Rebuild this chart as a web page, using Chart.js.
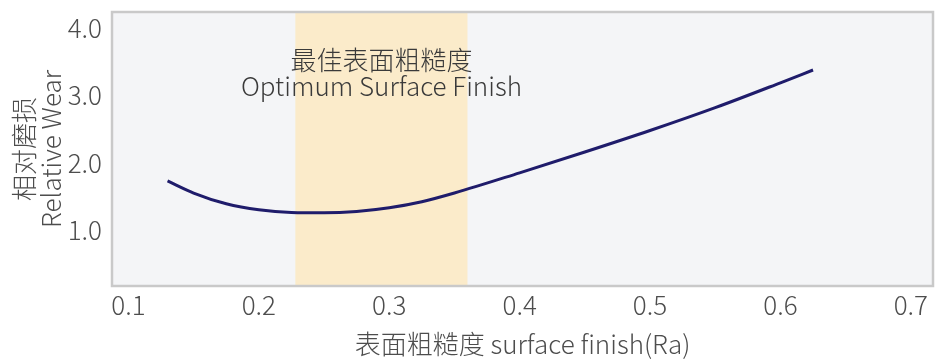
<!DOCTYPE html>
<html>
<head>
<meta charset="utf-8">
<script src="https://cdn.jsdelivr.net/npm/chart.js@4"></script>
<style>
  body { margin: 0; background: #ffffff; }
</style>
</head>
<body>
<canvas id="wearChart" width="945" height="360"></canvas>
<script>

// surface finish (Ra) vs relative wear
let finishRa = [0.13, 0.15, 0.175, 0.20, 0.225, 0.25, 0.275, 0.30, 0.325, 0.35, 0.40, 0.45, 0.50, 0.55, 0.60, 0.625];
let relWear  = [1.73, 1.55, 1.39, 1.30, 1.26, 1.255, 1.275, 1.33, 1.42, 1.55, 1.85, 2.16, 2.48, 2.82, 3.19, 3.38];

// optimum range band
let bandRange = [0.228, 0.360];
let bandText = ["最佳表面粗糙度", "Optimum Surface Finish"];

let xTicks = [0.1, 0.2, 0.3, 0.4, 0.5, 0.6, 0.7];
let yTicks = [1.0, 2.0, 3.0, 4.0];

let fontFamily = "'Noto Sans CJK SC', 'Noto Sans', sans-serif";
let textColor = "#4d4d4d";

const plotFrame = {
    id: "plotFrame",
    beforeDraw(chart) {
        const ctx = chart.ctx;
        const a = chart.chartArea;
        const xs = chart.scales.x;
        ctx.save();
        ctx.fillStyle = "#f4f5f7";
        ctx.fillRect(a.left, a.top, a.right - a.left, a.bottom - a.top);

        let b0 = xs.getPixelForValue(bandRange[0]);
        let b1 = xs.getPixelForValue(bandRange[1]);
        ctx.fillStyle = "#fbebca";
        ctx.fillRect(b0, a.top, b1 - b0, a.bottom - a.top);

        ctx.strokeStyle = "#c9c9c9";
        ctx.lineWidth = 2.5;
        ctx.strokeRect(a.left, a.top, a.right - a.left, a.bottom - a.top);

        // band caption
        ctx.fillStyle = "#3a3a3a";
        ctx.textAlign = "center";
        ctx.textBaseline = "middle";
        ctx.font = "300 26px " + fontFamily;
        let cx = (b0 + b1) / 2;
        ctx.fillText(bandText[0], cx, a.top + 48);
        ctx.fillText(bandText[1], cx, a.top + 74);
        ctx.restore();
    }
};

var ctx = document.getElementById("wearChart").getContext("2d");

var wearChart = new Chart(ctx, {
    type: "line",
    data: {
        datasets: [{
            data: finishRa.map((x, i) => ({ x: x, y: relWear[i] })),
            borderColor: "#1f1c6b",
            borderWidth: 3,
            pointRadius: 0,
            cubicInterpolationMode: "monotone",
            fill: false
        }]
    },
    options: {
        responsive: false,
        animation: false,
        layout: { padding: { top: 12, right: 12, left: 0, bottom: 0 } },
        plugins: {
            legend: { display: false },
            tooltip: { enabled: false }
        },
        scales: {
            x: {
                type: "linear",
                min: 0.0874,
                max: 0.717,
                grid: { display: false, drawTicks: false },
                border: { display: false },
                afterBuildTicks: (axis) => { axis.ticks = xTicks.map(v => ({ value: v })); },
                afterFit: (axis) => { axis.height = 74; axis.paddingLeft = 0; axis.paddingRight = 0; },
                ticks: {
                    padding: 4,
                    color: textColor,
                    font: { family: fontFamily, size: 26, weight: 300 },
                    callback: (v) => Number(v).toFixed(1)
                },
                title: {
                    display: true,
                    text: "表面粗糙度 surface finish(Ra)",
                    color: textColor,
                    padding: { top: 0, bottom: 0 },
                    font: { family: fontFamily, size: 26, weight: 300 }
                }
            },
            y: {
                min: 0.167,
                max: 4.243,
                grid: { display: false, drawTicks: false },
                border: { display: false },
                afterBuildTicks: (axis) => { axis.ticks = yTicks.map(v => ({ value: v })); },
                afterFit: (axis) => { axis.width = 112; axis.paddingTop = 0; axis.paddingBottom = 0; },
                ticks: {
                    padding: 10,
                    color: textColor,
                    font: { family: fontFamily, size: 26, weight: 300 },
                    callback: (v) => Number(v).toFixed(1)
                },
                title: {
                    display: true,
                    text: ["相对磨损", "Relative Wear"],
                    color: textColor,
                    padding: { top: 10, bottom: 0 },
                    font: { family: fontFamily, size: 26, weight: 300, lineHeight: 1.05 }
                }
            }
        }
    },
    plugins: [plotFrame]
});

</script>
</body>
</html>
